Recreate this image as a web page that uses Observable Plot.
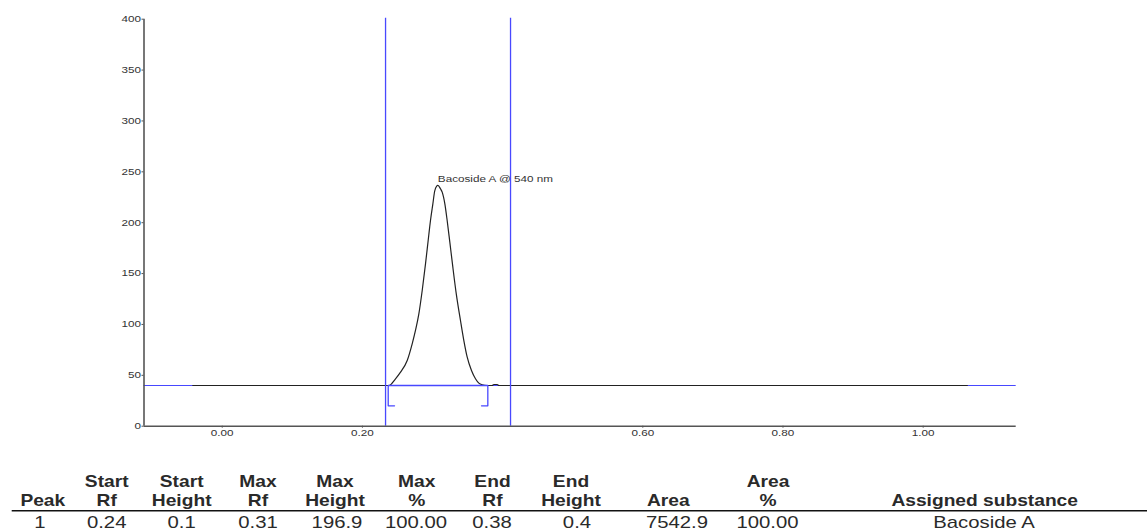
<!DOCTYPE html>
<html>
<head>
<meta charset="utf-8">
<script src="https://cdn.jsdelivr.net/npm/d3@7"></script>
<script src="https://cdn.jsdelivr.net/npm/@observablehq/plot@0.6"></script>
<style>
  html, body { margin: 0; padding: 0; background: #fff; }
  body { width: 1147px; height: 531px; overflow: hidden; position: relative; }
  #chart svg { display: block; }
  #table { position: absolute; left: 0; top: 445px; }
</style>
</head>
<body>
<div id="chart"></div>
<div id="table"></div>
<script>
// ---------- data ----------
const traceRf = [-0.042, 0.2377, 0.2472, 0.2544, 0.2639, 0.2710, 0.2757, 0.2805, 0.2853, 0.2900, 0.2938,
  0.2971, 0.3005, 0.3033, 0.3076, 0.3114, 0.3138, 0.3176, 0.3209, 0.3247, 0.3290, 0.3342, 0.3399,
  0.3447, 0.3495, 0.3556, 0.3613, 0.3661, 0.3709, 0.3780, 0.3851, 0.3875, 0.3923, 0.3946, 1.063];
const traceHeight = [40, 40.0, 46.6, 53.1, 64.6, 81.0, 94.1, 110.4, 133.4, 159.6, 182.5,
  202.2, 218.5, 231.6, 236.6, 233.3, 230.0, 218.5, 202.2, 180.9, 156.3, 128.5, 103.9,
  84.2, 67.8, 54.7, 46.6, 42.3, 40.7, 40.0, 40.0, 41.0, 41.0, 40.0, 40];

const trackLimitsRf = [0.233, 0.4113];
const baselineHeight = 40;
const bracketHeight = 20;
const peakStartRf = 0.2368;
const peakEndRf = 0.3789;
const peakLabel = "Bacoside A @ 540 nm";
const peakLabelRf = 0.3076;
const peakLabelHeight = 236.6;

const yTickValues = [0, 50, 100, 150, 200, 250, 300, 350, 400];
const xTickValues = [0.00, 0.20, 0.60, 0.80, 1.00];

const headerLine1 = ["", "Start", "Start", "Max", "Max", "Max", "End", "End", "", "Area", ""];
const headerLine2 = ["Peak", "Rf", "Height", "Rf", "Height", "%", "Rf", "Height", "Area", "%", "Assigned substance"];
const peakRow = ["1", "0.24", "0.1", "0.31", "196.9", "100.00", "0.38", "0.4", "7542.9", "100.00", "Bacoside A"];

// ---------- layout / style ----------
const blue = "#4848ff";
const headerCenters = [42.8, 106.7, 181.7, 258, 335, 416.7, 492.5, 571, 668.3, 768, 984.7];
const valueCenters = [40, 106.7, 181.7, 258, 337, 416, 492, 577, 677, 767.5, 984];

const trace = traceRf.map((r, i) => ({rf: r, h: traceHeight[i]}));
const bracketTick = 0.009;
const brackets = [
  {rf: peakStartRf + bracketTick, h: bracketHeight},
  {rf: peakStartRf, h: bracketHeight},
  {rf: peakStartRf, h: baselineHeight},
  {rf: peakEndRf, h: baselineHeight},
  {rf: peakEndRf, h: bracketHeight},
  {rf: peakEndRf - bracketTick, h: bracketHeight}
];

const xDomain = [-0.1116, 1.1327];

const chart = Plot.plot({
  width: 1147,
  height: 445,
  marginLeft: 143.5,
  marginRight: 131.3,
  marginTop: 18.7,
  marginBottom: 19.3,
  x: {domain: xDomain},
  y: {domain: [0, 400]},
  style: {fontFamily: "'Liberation Sans', Arial, sans-serif", fontSize: "9px", color: "#333", background: "#fff", overflow: "visible"},
  marks: [
    Plot.axisY({ticks: yTickValues, tickSize: 2, tickPadding: 1, tickFormat: d => String(d), label: null, stroke: "#555"}),
    Plot.axisX({ticks: xTickValues, tickSize: 2, tickPadding: 1, tickFormat: d3.format(".2f"), label: null, stroke: "#555"}),
    Plot.ruleY([baselineHeight], {stroke: blue, strokeWidth: 1.2}),
    Plot.line(trace, {x: "rf", y: "h", stroke: "#222", strokeWidth: 1.2, curve: "monotone-x"}),
    Plot.line(brackets, {x: "rf", y: "h", stroke: blue, strokeWidth: 1.3, curve: "linear"}),
    Plot.ruleX(trackLimitsRf, {y1: 0, y2: 401, stroke: blue, strokeWidth: 1.3}),
    Plot.ruleY([0], {stroke: "#555", strokeWidth: 1.6}),
    Plot.ruleX([xDomain[0]], {y1: 0, y2: 400, stroke: "#555", strokeWidth: 1.6}),
    Plot.text([peakLabel], {x: () => peakLabelRf, y: () => peakLabelHeight, text: d => d, textAnchor: "start", dy: -6, fill: "#333", fontSize: 9})
  ]
});
document.getElementById("chart").appendChild(chart);

// horizontal stretch of the printed glyphs
function stretchText(root, k) {
  root.querySelectorAll("text").forEach(t => {
    const x = +t.getAttribute("x") || 0, y = +t.getAttribute("y") || 0;
    const tr = t.getAttribute("transform") || "";
    t.setAttribute("transform", `${tr} translate(${x},${y}) scale(${k},1) translate(${-x},${-y})`);
  });
}
stretchText(chart, 1.3);

// ---------- table ----------
const tableTop = 445;
const tsvg = d3.select("#table").append("svg")
  .attr("width", 1147).attr("height", 86)
  .style("display", "block")
  .style("font-family", "'Liberation Sans', Arial, sans-serif")
  .style("font-size", "16px");

function addText(txt, x, y, bold, k) {
  if (!txt) return;
  tsvg.append("text")
    .attr("x", x).attr("y", y)
    .attr("text-anchor", "middle")
    .attr("font-weight", bold ? "bold" : "normal")
    .attr("fill", "#2a2a2a")
    .attr("transform", `translate(${x},${y}) scale(${k},1) translate(${-x},${-y})`)
    .text(txt);
}
headerLine1.forEach((t, i) => addText(t, headerCenters[i], 486.7 - tableTop, true, 1.2));
headerLine2.forEach((t, i) => addText(t, headerCenters[i], 506 - tableTop, true, 1.2));
peakRow.forEach((t, i) => addText(t, valueCenters[i], 528.5 - tableTop, false, 1.27));
tsvg.append("line")
  .attr("x1", 11.7).attr("x2", 1147)
  .attr("y1", 510.7 - tableTop).attr("y2", 510.7 - tableTop)
  .attr("stroke", "#111").attr("stroke-width", 1.4);
</script>
</body>
</html>
